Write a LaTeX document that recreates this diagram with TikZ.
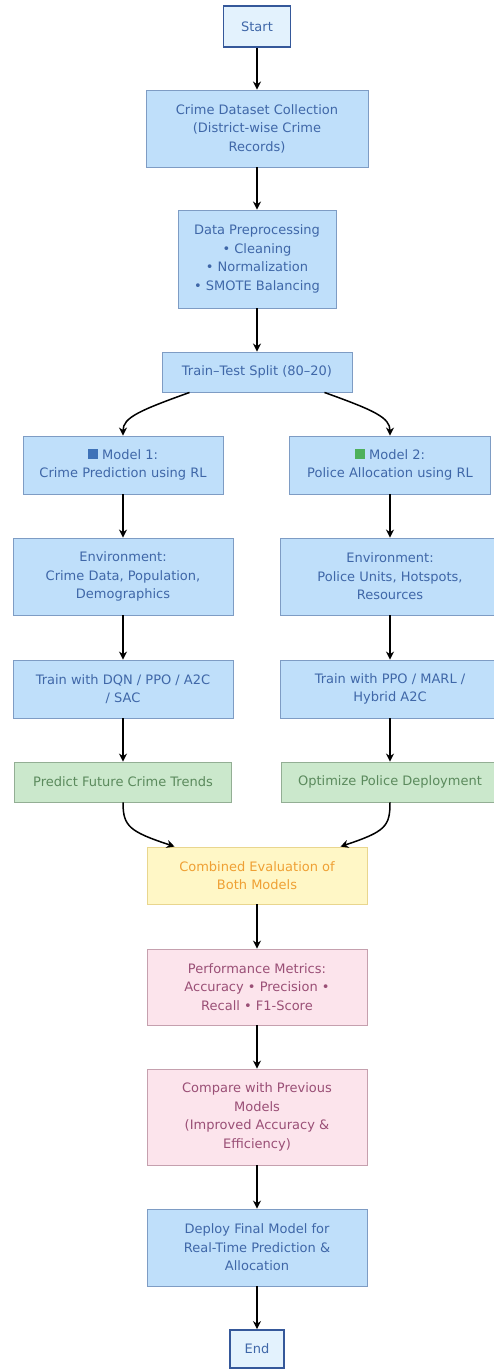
\documentclass[tikz,border=0pt]{standalone}
\usepackage{fontspec}
\setmainfont{DejaVu Sans}
\usetikzlibrary{arrows.meta}

\definecolor{bluefill}{HTML}{BFDFFA}
\definecolor{bluedraw}{HTML}{7E9CC4}
\definecolor{bluetext}{HTML}{3F67A8}
\definecolor{termfill}{HTML}{E3F2FD}
\definecolor{termdraw}{HTML}{35589A}
\definecolor{grnfill}{HTML}{CBE8CC}
\definecolor{grndraw}{HTML}{93AE94}
\definecolor{grntext}{HTML}{5B8A5D}
\definecolor{yelfill}{HTML}{FFF7C6}
\definecolor{yeldraw}{HTML}{E9D68E}
\definecolor{yeltext}{HTML}{EFA034}
\definecolor{pnkfill}{HTML}{FCE4EC}
\definecolor{pnkdraw}{HTML}{C5A0AE}
\definecolor{pnktext}{HTML}{9A4F76}
\definecolor{sqblue}{HTML}{3E72B8}
\definecolor{sqgreen}{HTML}{4DB05A}

\tikzset{
  box/.style={draw, line width=0.9pt, inner sep=0pt, align=center,
    font=\fontsize{13}{18.5}\selectfont},
  bluebox/.style={box, draw=bluedraw, fill=bluefill, text=bluetext},
  termbox/.style={box, draw=termdraw, line width=1.8pt, fill=termfill, text=bluetext},
  grnbox/.style={box, draw=grndraw, fill=grnfill, text=grntext},
  yelbox/.style={box, draw=yeldraw, fill=yelfill, text=yeltext},
  pnkbox/.style={box, draw=pnkdraw, fill=pnkfill, text=pnktext},
  flow/.style={draw=black, line width=1.5pt, -{Stealth[length=8pt,width=8pt]}}
}
\newcommand{\sqmark}[1]{\textcolor{#1}{\rule{10pt}{10pt}}}

\begin{document}
\begin{tikzpicture}[x=1pt, y=-1pt]
    \path[use as bounding box, fill=white] (0,0) rectangle (493,1370);
    \def\colL{123}
    \def\colM{257}
    \def\colR{390}
    \node[termbox, minimum width=67pt, minimum height=41pt] (A0_0) at (\colM, 26.5) {Start};
    \node[bluebox, minimum width=222pt, minimum height=77pt] (A1_0) at (\colM, 128.5)
      {Crime Dataset Collection\\(District-wise Crime\\Records)};
    \node[bluebox, minimum width=158pt, minimum height=98pt] (A2_0) at (\colM, 259)
      {Data Preprocessing\\• Cleaning\\• Normalization\\• SMOTE Balancing};
    \node[bluebox, minimum width=190pt, minimum height=40pt] (A3_0) at (\colM, 372)
      {Train–Test Split (80–20)};
    \node[bluebox, minimum width=200pt, minimum height=58pt] (A4_0) at (\colL, 465)
      {\sqmark{sqblue} Model 1:\\Crime Prediction using RL};
    \node[bluebox, minimum width=201pt, minimum height=58pt] (A4_1) at (\colR, 465)
      {\sqmark{sqgreen} Model 2:\\Police Allocation using RL};
    \node[bluebox, minimum width=220pt, minimum height=77pt] (A5_0) at (\colL, 576.5)
      {Environment:\\Crime Data, Population,\\Demographics};
    \node[bluebox, minimum width=220pt, minimum height=77pt] (A5_1) at (\colR, 576.5)
      {Environment:\\Police Units, Hotspots,\\Resources};
    \node[bluebox, minimum width=220pt, minimum height=58pt] (A6_0) at (\colL, 689)
      {Train with DQN / PPO / A2C\\/ SAC};
    \node[bluebox, minimum width=220pt, minimum height=58pt] (A6_1) at (\colR, 689)
      {Train with PPO / MARL /\\Hybrid A2C};
    \node[grnbox, minimum width=217pt, minimum height=40pt] (A7_0) at (\colL, 782)
      {Predict Future Crime Trends};
    \node[grnbox, minimum width=217pt, minimum height=40pt] (A7_1) at (\colR, 782)
      {Optimize Police Deployment};
    \node[yelbox, minimum width=220pt, minimum height=57pt] (A8_0) at (\colM, 875.5)
      {Combined Evaluation of\\Both Models};
    \node[pnkbox, minimum width=220pt, minimum height=76pt] (A9_0) at (\colM, 987)
      {Performance Metrics:\\Accuracy • Precision •\\Recall • F1-Score};
    \node[pnkbox, minimum width=220pt, minimum height=96pt] (A10_0) at (\colM, 1117)
      {Compare with Previous\\Models\\(Improved Accuracy \&\\Efficiency)};
    \node[bluebox, minimum width=220pt, minimum height=77pt] (A11_0) at (\colM, 1247.5)
      {Deploy Final Model for\\Real-Time Prediction \&\\Allocation};
    \node[termbox, minimum width=54pt, minimum height=38pt] (A12_0) at (\colM, 1349) {End};
    % straight arrows
    \path (A0_0) edge [flow] (A1_0);
    \path (A1_0) edge [flow] (A2_0);
    \path (A2_0) edge [flow] (A3_0);
    \path (A4_0) edge [flow] (A5_0);
    \path (A4_1) edge [flow] (A5_1);
    \path (A5_0) edge [flow] (A6_0);
    \path (A5_1) edge [flow] (A6_1);
    \path (A6_0) edge [flow] (A7_0);
    \path (A6_1) edge [flow] (A7_1);
    \path (A8_0) edge [flow] (A9_0);
    \path (A9_0) edge [flow] (A10_0);
    \path (A10_0) edge [flow] (A11_0);
    \path (A11_0) edge [flow] (A12_0);
    % split and merge
    \draw[flow] ([xshift=28pt]A3_0.south west) .. controls +(-50,18) and +(0,-18) .. (A4_0.north);
    \draw[flow] ([xshift=-28pt]A3_0.south east) .. controls +(50,18) and +(0,-18) .. (A4_1.north);
    \draw[flow] (A7_0.south) .. controls +(0,24) and +(-45,-15) .. ([xshift=28pt]A8_0.north west);
    \draw[flow] (A7_1.south) .. controls +(0,24) and +(45,-15) .. ([xshift=-27pt]A8_0.north east);
  \end{tikzpicture}
\end{document}
